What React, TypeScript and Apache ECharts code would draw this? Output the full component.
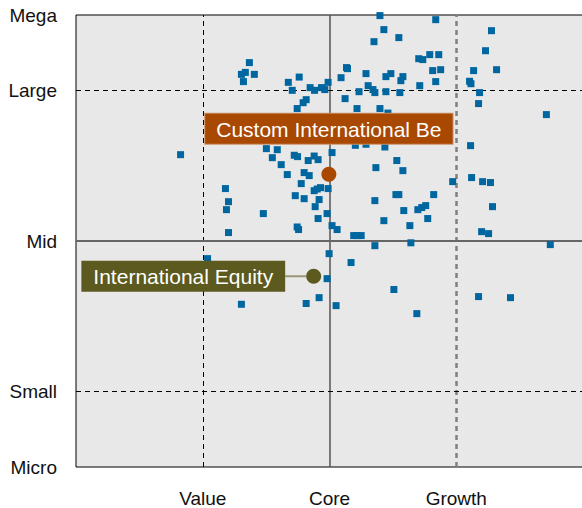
import React, { useEffect, useRef } from "react";
import * as echarts from "echarts";

// Holdings: style score (Value -100 / Core 0 / Growth 100) and size score (Mid 0 / Large 100 / Small -100)
const holdingStyle = [
  -63.2, -69.5, -66.4, -59.3, -67.9, -32.5, -23.9, -29.4, -25.5, -20.8,
  -18.4, -15.3, -11.8, -6.3, -3.7, -1.1, 9.1, 13.4, 14.2, 12.3,
  21.7, 23.3, 28.8, 30.5, 39.8, 42.9, 35.1, 54.7, 83.8, 34.3,
  35.8, 44.5, 48.4, 57.9, 56.3, 44.5, 55.5, 70.4, 73.6, 79.1,
  86.2, 81.4, 87.7, 83.8, 71.2, 39.8, 46.1, 127.8, 123.1, 113.7,
  131.8, 110.5, 111.6, 118.4, 117.6, 171.1, -117.5, -49.8, -41.2, -45.1,
  -38.1, -33.3, -27.8, -25.2, -16.8, -12.1, -9.0, 2.0, -20.0, -16.0,
  -22.3, -12.1, -9.7, -7.1, -1.1, -27.0, -20.0, -8.2, -11.3, -1.9,
  -9.0, 2.0, 6.0, -25.5, -24.4, 19.1, 21.9, 25.0, -82.1, -79.7,
  -81.3, -52.2, -79.7, 20.4, 28.8, 43.7, 111.3, 36.6, 53.1, 57.9,
  97.2, 112.1, 120.8, 127.0, 52.4, 54.7, 82.2, 35.8, 58.6, 69.7,
  72.8, 75.9, 77.5, 42.9, 63.4, 128.6, 120.0, 125.5, 35.8, 64.2,
  174.2, -96.2, -0.3, 17.0, -1.9, -69.5, -18.4, -8.2, 5.2, 50.8,
  68.9, 117.6, 142.8,
];
const holdingSize = [
  118.4, 110.6, 111.9, 110.6, 105.8, 105.3, 108.8, 100.0, 87.9, 91.8,
  93.8, 101.8, 100.0, 101.8, 100.5, 105.3, 108.4, 115.1, 114.4, 94.5,
  87.9, 99.1, 111.1, 103.1, 149.6, 140.3, 132.3, 135.0, 146.9, 100.5,
  98.5, 109.1, 111.1, 109.1, 106.4, 99.1, 98.5, 121.0, 120.4, 123.7,
  123.7, 113.1, 113.7, 105.8, 103.1, 87.9, 84.9, 139.6, 126.3, 113.1,
  113.7, 106.0, 104.4, 98.5, 91.2, 83.9, 57.3, 61.3, 60.6, 55.3,
  50.7, 44.1, 56.9, 56.0, 53.4, 56.4, 54.0, 58.7, 45.4, 43.4,
  38.1, 33.4, 34.5, 35.4, 34.8, 30.1, 28.1, 27.5, 22.8, 18.2,
  14.9, 10.2, 7.6, 9.3, 7.6, 3.6, 3.6, 3.6, 34.8, 26.1,
  20.8, 18.2, 5.6, 63.5, 64.2, 62.4, 63.3, 48.7, 53.4, 46.7,
  39.4, 42.1, 39.4, 38.8, 30.8, 30.8, 30.8, 26.8, 20.2, 20.8,
  22.2, 23.5, 14.9, 13.5, 10.2, 22.8, 6.2, 4.9, -3.1, -1.2,
  -2.4, -11.7, -8.4, -14.3, -25.0, -42.0, -41.5, -37.6, -42.9, -32.2,
  -48.2, -36.9, -37.6,
];

const portfolioNames = ["Custom International Be", "International Equity"];
const portfolioStyle = [-0.5, -12.5];
const portfolioSize = [44.3, -23.4];

const styleTicks: Record<number, string> = { [-100]: "Value", 0: "Core", 100: "Growth" };
const sizeTicks: Record<number, string> = { 150: "Mega", 100: "Large", 0: "Mid", [-100]: "Small", [-150]: "Micro" };

const FONT = "'Liberation Sans', Arial, sans-serif";

export default function App() {
  const ref = useRef<HTMLDivElement>(null);
  useEffect(() => {
    if (!ref.current) return;
    const chart = echarts.init(ref.current, undefined, { renderer: "svg" });
    const holdings = holdingStyle.map((x, i) => [x, holdingSize[i]]);
    chart.setOption({
      animation: false,
      grid: {
        left: 76,
        top: 15,
        right: 1,
        bottom: 41,
        show: true,
        backgroundColor: "#e8e8e8",
        borderColor: "#000",
        borderWidth: 1,
      },
      xAxis: {
        type: "value",
        min: -200,
        max: 200,
        interval: 100,
        axisLine: { show: false },
        axisTick: { show: false },
        splitLine: { show: false },
        axisLabel: {
          margin: 22,
          fontSize: 19,
          color: "#111",
          fontFamily: FONT,
          formatter: (v: number) => styleTicks[v] ?? "",
        },
      },
      yAxis: {
        type: "value",
        min: -150,
        max: 150,
        interval: 50,
        axisLine: { show: false },
        axisTick: { show: false },
        splitLine: { show: false },
        axisLabel: {
          margin: 19,
          fontSize: 19,
          color: "#111",
          fontFamily: FONT,
          formatter: (v: number) => sizeTicks[v] ?? "",
        },
      },
      series: [
        {
          type: "scatter",
          z: 1,
          data: [],
          silent: true,
          markLine: {
            silent: true,
            symbol: "none",
            label: { show: false },
            z: 1,
            data: [
              { xAxis: -100, lineStyle: { color: "#000", width: 1, type: [5, 4] } },
              { xAxis: 0, lineStyle: { color: "#555", width: 1.5, type: "solid" } },
              { xAxis: 100, lineStyle: { color: "#808080", width: 2.5, type: [5, 4] } },
              { yAxis: 100, lineStyle: { color: "#000", width: 1, type: [5, 4] } },
              { yAxis: 0, lineStyle: { color: "#666", width: 2, type: "solid" } },
              { yAxis: -100, lineStyle: { color: "#000", width: 1, type: [5, 4] } },
            ],
          },
        },
        {
          type: "scatter",
          z: 3,
          symbol: "rect",
          symbolSize: 7,
          itemStyle: { color: "#0066a0", opacity: 1 },
          data: holdings,
        },
        {
          type: "scatter",
          z: 5,
          symbolSize: 15,
          itemStyle: { color: "#a94800", opacity: 1 },
          data: [[portfolioStyle[0], portfolioSize[0], portfolioNames[0]]],
          label: {
            show: true,
            position: "top",
            distance: 23,
            formatter: portfolioNames[0],
            backgroundColor: "#a94800",
            borderColor: "#c98f66",
            borderWidth: 1,
            color: "#fff",
            fontSize: 21,
            fontFamily: FONT,
            padding: [5, 11, 4, 11],
          },
        },
        {
          type: "scatter",
          z: 5,
          symbolSize: 15,
          itemStyle: { color: "#5c5a1f", opacity: 1 },
          data: [[portfolioStyle[1], portfolioSize[1], portfolioNames[1]]],
          label: {
            show: true,
            position: "left",
            distance: 0,
            formatter: "{box|" + portfolioNames[1] + "}{line|}",
            rich: {
              box: {
                backgroundColor: "#5c5a1f",
                color: "#fff",
                fontSize: 21,
                fontFamily: FONT,
                padding: [5, 12, 5, 12],
              },
              line: {
                width: 21,
                height: 2,
                backgroundColor: "#9a9878",
              },
            },
          },
        },
      ],
    });
    return () => chart.dispose();
  }, []);
  return (
    <div style={{ position: "fixed", left: 0, top: 0, width: 582, height: 508, overflow: "hidden", background: "#fff" }}>
      <div ref={ref} style={{ width: 586, height: 508 }} />
    </div>
  );
}
